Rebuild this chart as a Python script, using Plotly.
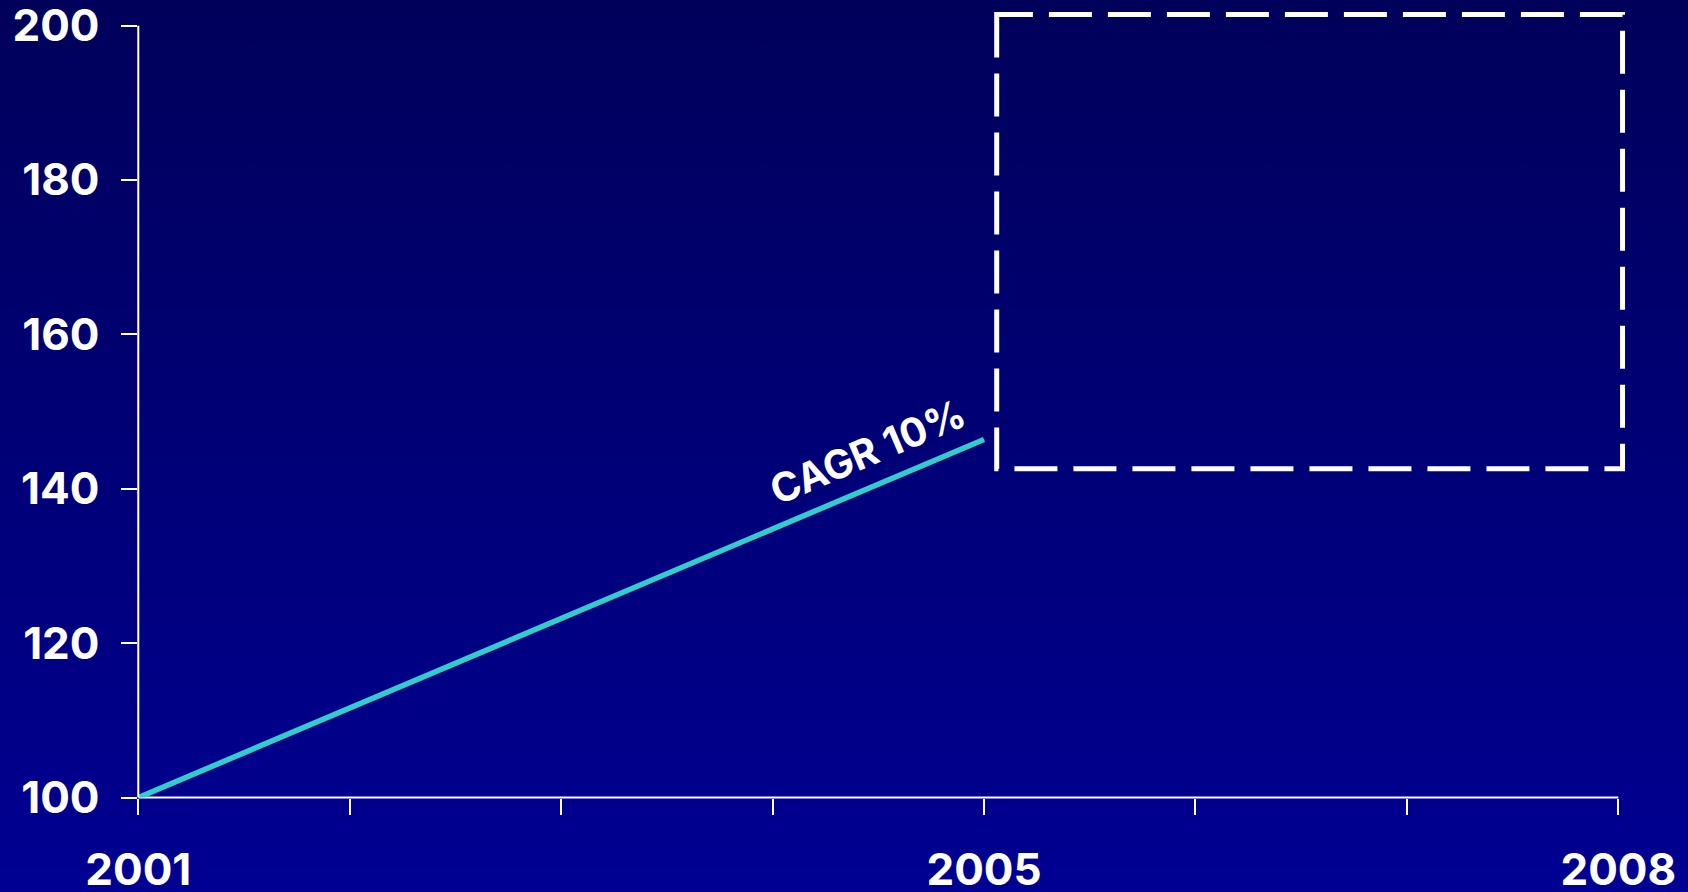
import base64
import plotly.graph_objects as go

# Indexed growth 2001 -> 2005 (2001 = 100), CAGR 10%
years = [2001, 2005]
index_values = [100, 146.4]

# Axis ticks
x_tick_years = [2001, 2002, 2003, 2004, 2005, 2006, 2007, 2008]
x_tick_labels = ["2001", "", "", "", "2005", "", "", "2008"]
y_tick_values = [100, 120, 140, 160, 180, 200]

# Target corridor 2005-2008 (dashed box)
target_years = [2005.06, 2008.02]
target_index = [142.6, 201.45]

cagr_label = "CAGR 10%"

W, H = 1688, 892
FONT = "Inter"
WHITE = "#FFFFFF"
CYAN = "#33CCCC"

# Vertical navy gradient used as the page background
svg = (
    f'<svg xmlns="http://www.w3.org/2000/svg" width="{W}" height="{H}" '
    f'viewBox="0 0 {W} {H}" preserveAspectRatio="none">'
    '<defs><linearGradient id="g" x1="0" y1="0" x2="0" y2="1">'
    '<stop offset="0" stop-color="#00005A"/>'
    '<stop offset="1" stop-color="#000092"/>'
    '</linearGradient></defs>'
    f'<rect x="0" y="0" width="{W}" height="{H}" fill="url(#g)"/></svg>'
)
bg_uri = "data:image/svg+xml;base64," + base64.b64encode(svg.encode()).decode()

# Plot-area geometry in pixels
left_px, year_px = 138.3, 211.43
bottom_px, unit_px = 797.6, 7.719
x_range = [2001, 2008.08]
y_range = [100, 203]
x_dom = [left_px / W, (left_px + (x_range[1] - x_range[0]) * year_px) / W]
y_dom = [(H - bottom_px) / H, (H - bottom_px + (y_range[1] - y_range[0]) * unit_px) / H]

fig = go.Figure()

fig.add_trace(go.Scatter(
    x=years, y=index_values, mode="lines",
    line=dict(color=CYAN, width=5.5),
    hoverinfo="skip", showlegend=False,
))

shapes = [
    # y axis line (100 -> 200)
    dict(type="line", xref="x domain", yref="y", x0=0, x1=0,
         y0=y_tick_values[0], y1=y_tick_values[-1],
         line=dict(color=WHITE, width=2), layer="above"),
    # x axis line (2001 -> 2008)
    dict(type="line", xref="x", yref="y domain", x0=x_tick_years[0], x1=x_tick_years[-1],
         y0=0, y1=0, line=dict(color=WHITE, width=2), layer="below"),
    # dashed target box
    dict(type="path", xref="x", yref="y",
         path=(f"M {target_years[0]},{target_index[1]} "
               f"L {target_years[0]},{target_index[0]} "
               f"L {target_years[1]},{target_index[0]} "
               f"L {target_years[1]},{target_index[1]} Z"),
         line=dict(color=WHITE, width=5, dash="43px,16px"),
         fillcolor="rgba(0,0,0,0)", layer="above"),
]

tick_font = dict(family=FONT, size=44, color=WHITE, weight=700)

fig.update_layout(
    width=W, height=H,
    autosize=False,
    margin=dict(l=0, r=0, t=0, b=0, pad=0, autoexpand=False),
    paper_bgcolor="#000078",
    plot_bgcolor="rgba(0,0,0,0)",
    showlegend=False,
    images=[dict(source=bg_uri, xref="paper", yref="paper", x=0, y=1,
                 sizex=1, sizey=1, xanchor="left", yanchor="top",
                 sizing="stretch", layer="below")],
    shapes=shapes,
    xaxis=dict(
        domain=x_dom, range=x_range, showgrid=False, zeroline=False, showline=False,
        tickmode="array", tickvals=x_tick_years, ticktext=x_tick_labels,
        ticks="outside", ticklen=16, tickwidth=2, tickcolor=WHITE,
        tickfont=tick_font, ticklabelstandoff=18, ticklabeloverflow="allow",
        automargin=False, fixedrange=True,
    ),
    yaxis=dict(
        domain=y_dom, range=y_range, showgrid=False, zeroline=False, showline=False,
        tickmode="array", tickvals=y_tick_values,
        ticks="outside", ticklen=16, tickwidth=2, tickcolor=WHITE,
        tickfont=tick_font, ticklabelstandoff=13, ticklabeloverflow="allow",
        automargin=False, fixedrange=True,
    ),
    annotations=[dict(
        x=2004.45, y=144.8, xref="x", yref="y", text=cagr_label,
        showarrow=False, textangle=-23, xanchor="center", yanchor="middle",
        font=dict(family=FONT, size=40, color=WHITE, weight=700),
    )],
)

fig.write_html("out.html", config={"displayModeBar": False})
